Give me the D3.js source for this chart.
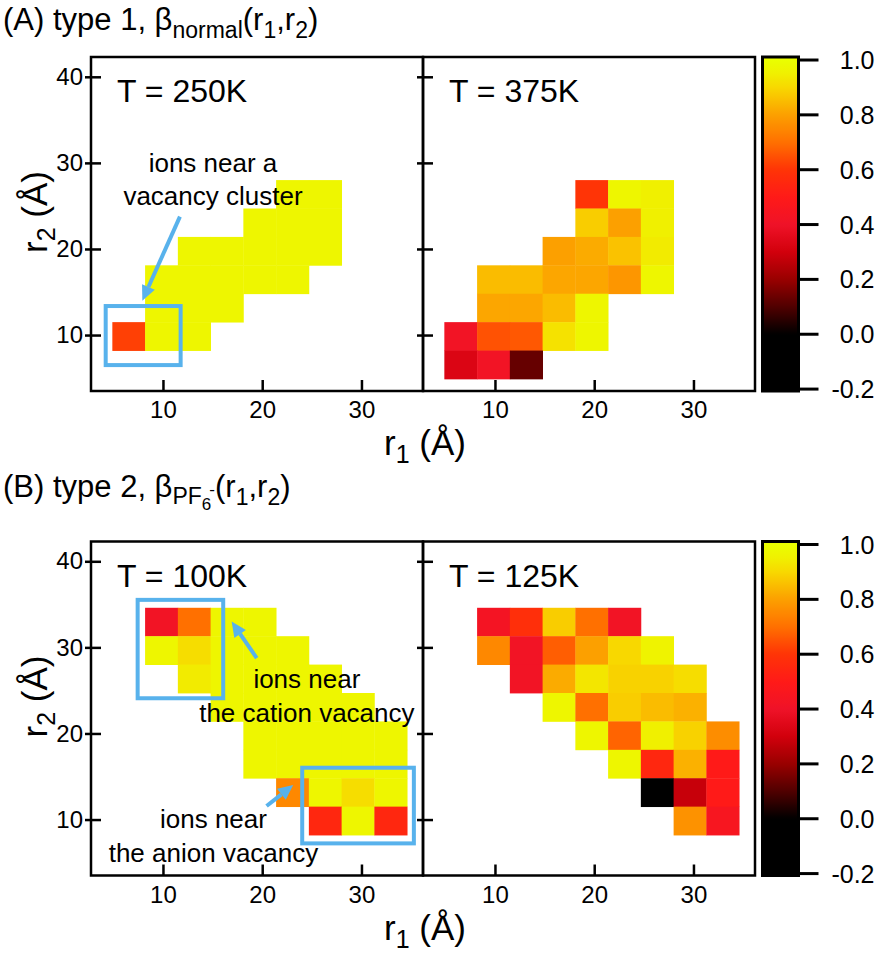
<!DOCTYPE html>
<html><head><meta charset="utf-8">
<script src="https://cdn.jsdelivr.net/npm/d3@7"></script>
<style>
body{margin:0;background:#fff}
text{font-family:"Liberation Sans",Arial,Helvetica,sans-serif;fill:#000}
</style>
</head><body>
<svg id="c" width="878" height="953"></svg>
<script>
// ---------- DATA ----------
// bin edges (Å) shared by r1 and r2
const binEdges = [4.9, 8.2, 11.5, 14.8, 18.1, 21.4, 24.7, 28.0, 31.3, 34.6];
const xTicks = [10, 20, 30];
const yTicks = [10, 20, 30, 40];
const cbTicks = [1.0, 0.8, 0.6, 0.4, 0.2, 0.0, -0.2];
const _ = null;
// grids: rows listed from top r2 bin (index 8) down to bottom (index 0); columns r1 bins 0..8
const beta250K = [
  [_,_,_,_,_,_,_,_,_],
  [_,_,_,_,_,_,_,_,_],
  [_,_,_,_,_,.97,.97,_,_],
  [_,_,_,_,.97,.97,.97,_,_],
  [_,_,.97,.97,.97,.97,.97,_,_],
  [_,.97,.97,.97,.97,.97,_,_,_],
  [_,.97,.97,.97,_,_,_,_,_],
  [.62,.97,.97,_,_,_,_,_,_],
  [_,_,_,_,_,_,_,_,_]
];
const beta375K = [
  [_,_,_,_,_,_,_,_,_],
  [_,_,_,_,_,_,_,_,_],
  [_,_,_,_,.60,.97,.95,_,_],
  [_,_,_,_,.88,.80,.95,_,_],
  [_,_,_,.80,.82,.86,.94,_,_],
  [_,.85,.85,.81,.81,.78,.97,_,_],
  [_,.81,.81,.85,.97,_,_,_,_],
  [.42,.65,.66,.92,.97,_,_,_,_],
  [.33,.42,.13,_,_,_,_,_,_]
];
const beta100K = [
  [_,.42,.70,.97,.97,_,_,_,_],
  [_,.97,.91,.97,.97,.97,_,_,_],
  [_,_,.94,.97,.97,.97,.97,_,_],
  [_,_,_,.97,.97,.97,.97,.97,_],
  [_,_,_,_,.97,.97,.97,.97,.97],
  [_,_,_,_,.97,.97,.97,.97,.97],
  [_,_,_,_,_,.75,.97,.91,.97],
  [_,_,_,_,_,_,.55,.97,.55],
  [_,_,_,_,_,_,_,_,_]
];
const beta125K = [
  [_,.43,.58,.88,.70,.42,_,_,_],
  [_,.75,.42,.67,.80,.90,.96,_,_],
  [_,_,.42,.82,.93,.89,.89,.91,_],
  [_,_,_,.97,.70,.88,.85,.83,_],
  [_,_,_,_,.97,.68,.95,.89,.76],
  [_,_,_,_,_,.97,.55,.83,.50],
  [_,_,_,_,_,_,-0.1,.28,.50],
  [_,_,_,_,_,_,_,.77,.45],
  [_,_,_,_,_,_,_,_,_]
];
const tempLabels = ["T = 250K", "T = 375K", "T = 100K", "T = 125K"];

// ---------- LAYOUT ----------
const svg = d3.select("#c");
svg.append("rect").attr("width",878).attr("height",953).attr("fill","#fff");
const W = 332, H = 334, X0 = 91, rowTop = [57, 541.5];
const x = d3.scaleLinear().domain([2.75, 36.2]).range([0, W]);
const y = d3.scaleLinear().domain([3.5, 42.3]).range([H, 0]);
const cbScale = d3.scaleLinear().domain([-0.207, 1.011]).range([H, 0]);
const cmapV = [-0.2, 0.0, 0.1, 0.2, 0.3, 0.4, 0.5, 0.6, 0.7, 0.8, 0.9, 0.95, 1.0];
const cmapC = ["#000000","#000000","#500000","#990000","#d2000c","#ef1228","#ff1a18","#ff3406","#ff7000","#fca000","#f8d800","#f0f000","#eaff00"];
const color = d3.scaleLinear().domain(cmapV).range(cmapC).clamp(true);
const BLUE = "#58b2ec";

const panels = [
  {data: beta250K, label: tempLabels[0], c: 0, r: 0},
  {data: beta375K, label: tempLabels[1], c: 1, r: 0},
  {data: beta100K, label: tempLabels[2], c: 0, r: 1},
  {data: beta125K, label: tempLabels[3], c: 1, r: 1}
];

panels.forEach(p => {
  const g = svg.append("g").attr("transform", `translate(${X0 + p.c * W},${rowTop[p.r]})`);
  p.g = g;
  const n = p.data.length;
  p.data.forEach((row, k) => {
    const j = n - 1 - k;
    row.forEach((v, i) => {
      if (v == null) return;
      g.append("rect")
        .attr("x", x(binEdges[i]))
        .attr("y", y(binEdges[j + 1]))
        .attr("width", x(binEdges[i + 1]) - x(binEdges[i]) + 0.4)
        .attr("height", y(binEdges[j]) - y(binEdges[j + 1]) + 0.4)
        .attr("fill", color(v));
    });
  });
  // x axis
  const xa = g.append("g").attr("transform", `translate(0,${H})`)
    .call(d3.axisBottom(x).tickValues(xTicks).tickSize(-11).tickPadding(10));
  xa.select(".domain").remove();
  xa.attr("font-family", null).attr("font-size", null);
  xa.selectAll("line").attr("stroke", "#000").attr("stroke-width", 2.5);
  xa.selectAll("text").style("font-size", "24px");
  // y axis
  const ya = g.append("g").call(d3.axisLeft(y).tickValues(yTicks).tickSize(-10).tickPadding(8));
  ya.select(".domain").remove();
  ya.attr("font-family", null).attr("font-size", null);
  ya.selectAll("line").attr("x1", -6).attr("stroke", "#000").attr("stroke-width", 2.5);
  if (p.c === 0) ya.selectAll("text").style("font-size", "24px");
  else ya.selectAll("text").remove();
  // frame
  g.append("rect").attr("width", W).attr("height", H)
    .attr("fill", "none").attr("stroke", "#000").attr("stroke-width", 2.5);
  g.append("text").attr("x", 26).attr("y", 45).style("font-size", "32px").text(p.label);
});

// ---------- COLORBARS ----------
const defs = svg.append("defs");
const grad = defs.append("linearGradient").attr("id", "cbg")
  .attr("x1", 0).attr("y1", 1).attr("x2", 0).attr("y2", 0);
const dMin = cbScale.domain()[0], dMax = cbScale.domain()[1];
d3.range(0, 121).forEach(k => {
  const v = dMin + (dMax - dMin) * k / 120;
  grad.append("stop").attr("offset", (k / 120 * 100) + "%").attr("stop-color", color(v));
});
rowTop.forEach(t => {
  const g = svg.append("g").attr("transform", `translate(762.5,${t})`);
  g.append("rect").attr("width", 36).attr("height", H).attr("fill", "url(#cbg)")
    .attr("stroke", "#000").attr("stroke-width", 3);
  cbTicks.forEach(v => {
    g.append("line").attr("x1", 36).attr("x2", 56)
      .attr("y1", cbScale(v)).attr("y2", cbScale(v))
      .attr("stroke", "#000").attr("stroke-width", 3);
    g.append("text").attr("x", 112).attr("y", cbScale(v)).attr("dy", "0.36em")
      .attr("text-anchor", "end").style("font-size", "25px").text(v.toFixed(1));
  });
});

// ---------- AXIS LABELS ----------
rowTop.forEach(t => {
  const xl = svg.append("text").attr("x", X0 + W + 2).attr("y", t + 398)
    .attr("text-anchor", "middle").style("font-size", "35px");
  xl.append("tspan").text("r");
  xl.append("tspan").attr("dy", 8).style("font-size", "25px").text("1");
  xl.append("tspan").attr("dy", -8).text(" (Å)");
  const yl = svg.append("text").attr("transform", `translate(47,${t + 155}) rotate(-90)`)
    .attr("text-anchor", "middle").style("font-size", "35px");
  yl.append("tspan").text("r");
  yl.append("tspan").attr("dy", 8).style("font-size", "25px").text("2");
  yl.append("tspan").attr("dy", -8).text(" (Å)");
});

// ---------- TITLES ----------
const tA = svg.append("text").attr("x", 3).attr("y", 30).style("font-size", "31px");
tA.append("tspan").text("(A) type 1, β");
tA.append("tspan").attr("dy", 8).style("font-size", "23px").text("normal");
tA.append("tspan").attr("dy", -8).text("(r");
tA.append("tspan").attr("dy", 8).style("font-size", "23px").text("1");
tA.append("tspan").attr("dy", -8).text(",r");
tA.append("tspan").attr("dy", 8).style("font-size", "23px").text("2");
tA.append("tspan").attr("dy", -8).text(")");

const tB = svg.append("text").attr("x", 3).attr("y", 497).style("font-size", "31px");
tB.append("tspan").text("(B) type 2, β");
tB.append("tspan").attr("dy", 7).style("font-size", "23px").text("PF");
tB.append("tspan").attr("dy", 6).style("font-size", "17px").text("6");
tB.append("tspan").attr("dy", -15).attr("dx", -2).style("font-size", "17px").text("-");
tB.append("tspan").attr("dy", 2).attr("dx", 0).text("(r");
tB.append("tspan").attr("dy", 8).style("font-size", "23px").text("1");
tB.append("tspan").attr("dy", -8).text(",r");
tB.append("tspan").attr("dy", 8).style("font-size", "23px").text("2");
tB.append("tspan").attr("dy", -8).text(")");

// ---------- ANNOTATIONS (data coordinates) ----------
function box(g, x1, x2, y1, y2) {
  g.append("rect").attr("x", x(x1)).attr("y", y(y2))
    .attr("width", x(x2) - x(x1)).attr("height", y(y1) - y(y2))
    .attr("fill", "none").attr("stroke", BLUE).attr("stroke-width", 4);
}
function arrow(g, fx, fy, tx, ty) {
  const x1 = x(fx), y1 = y(fy), x2 = x(tx), y2 = y(ty);
  const ang = Math.atan2(y2 - y1, x2 - x1), L = 15, Wd = 7;
  const bx = x2 - L * Math.cos(ang), by = y2 - L * Math.sin(ang);
  g.append("line").attr("x1", x1).attr("y1", y1).attr("x2", bx).attr("y2", by)
    .attr("stroke", BLUE).attr("stroke-width", 4);
  const px = -Math.sin(ang) * Wd, py = Math.cos(ang) * Wd;
  g.append("path").attr("d", `M${x2},${y2}L${bx + px},${by + py}L${bx - px},${by - py}Z`).attr("fill", BLUE);
}
function label(g, cx, lines) {
  lines.forEach(l => g.append("text").attr("x", x(cx)).attr("y", y(l[1]))
    .attr("text-anchor", "middle").style("font-size", "26px").text(l[0]));
}
const gA = panels[0].g, gB = panels[2].g;
box(gA, 4.23, 11.78, 6.51, 13.37);
arrow(gA, 11.71, 23.76, 7.92, 13.99);
label(gA, 15.04, [["ions near a", 28.99], ["vacancy cluster", 25.12]]);

box(gB, 7.45, 16.07, 24.09, 35.52);
arrow(gB, 19.45, 28.74, 16.92, 33.0);
label(gB, 24.5, [["ions near", 25.29], ["the cation vacancy", 21.37]]);

box(gB, 24.03, 35.28, 7.23, 16.02);
arrow(gB, 20.44, 11.57, 23.12, 14.01);
label(gB, 15.09, [["ions near", 8.98], ["the anion vacancy", 5.09]]);
</script>
</body></html>
